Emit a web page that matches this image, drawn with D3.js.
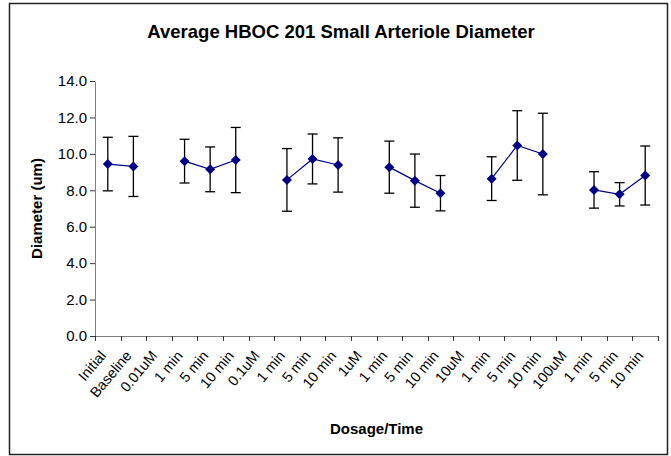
<!DOCTYPE html>
<html>
<head>
<meta charset="utf-8">
<script src="https://cdn.jsdelivr.net/npm/d3@7"></script>
<style>
  body { margin: 0; background: #fff; }
  text { font-family: "Liberation Sans", Arial, sans-serif; }
</style>
</head>
<body>
<svg width="671" height="456"></svg>
<script>
// categories along the x axis (dose headers have no value)
var categories = ["Initial", "Baseline", "0.01uM", "1 min", "5 min", "10 min", "0.1uM", "1 min", "5 min", "10 min",
    "1uM", "1 min", "5 min", "10 min", "10uM", "1 min", "5 min", "10 min", "100uM", "1 min", "5 min", "10 min"];
var means = [9.44, 9.31, null, 9.6, 9.15, 9.66, null, 8.57, 9.72, 9.39,
    null, 9.27, 8.53, 7.84, null, 8.64, 10.46, 9.99, null, 8.02, 7.78, 8.81];
var errors = [1.47, 1.65, null, 1.2, 1.23, 1.79, null, 1.72, 1.37, 1.49,
    null, 1.43, 1.46, 0.97, null, 1.2, 1.91, 2.24, null, 1.0, 0.64, 1.62];
var yTicks = [0, 2, 4, 6, 8, 10, 12, 14];

var svg = d3.select("svg"),
    width = +svg.attr("width"),
    height = +svg.attr("height");

var margin = { left: 95, right: 13, top: 81, bottom: 120 };

// outer frame
svg.append("rect")
    .attr("x", 9.5).attr("y", 3.5)
    .attr("width", 658).attr("height", 451)
    .attr("fill", "#fff")
    .attr("stroke", "#222")
    .attr("stroke-width", 1.5);

var x = d3.scaleBand()
    .domain(d3.range(categories.length))
    .range([margin.left, width - margin.right]);

var y = d3.scaleLinear()
    .domain([0, 14])
    .range([height - margin.bottom, margin.top]);

// title
svg.append("text")
    .attr("x", 341).attr("y", 38)
    .attr("text-anchor", "middle")
    .attr("font-size", "18.5px")
    .attr("font-weight", "bold")
    .text("Average HBOC 201 Small Arteriole Diameter");

// y axis
var yAxis = svg.append("g")
    .attr("transform", "translate(" + margin.left + ",0)")
    .call(d3.axisLeft(y).tickValues(yTicks).tickFormat(d3.format(".1f")).tickSize(5).tickSizeOuter(0));
yAxis.select(".domain").attr("stroke", "#808080");
yAxis.selectAll(".tick line").attr("stroke", "#333");
yAxis.selectAll(".tick text")
    .attr("font-size", "15px")
    .attr("fill", "#000")
    .attr("x", -8);

// x axis with ticks on band edges
var edges = d3.range(categories.length + 1).map(function (i) {
    return i < categories.length ? x(i) : x(i - 1) + x.bandwidth();
});
var xg = svg.append("g");
xg.append("line")
    .attr("x1", margin.left).attr("x2", width - margin.right)
    .attr("y1", y(0) + 0.5).attr("y2", y(0) + 0.5)
    .attr("stroke", "#808080");
xg.selectAll("line.tk")
    .data(edges)
    .enter()
    .append("line")
    .attr("class", "tk")
    .attr("x1", function (d) { return Math.round(d) + 0.5; })
    .attr("x2", function (d) { return Math.round(d) + 0.5; })
    .attr("y1", y(0))
    .attr("y2", y(0) + 5)
    .attr("stroke", "#333");

xg.selectAll("text")
    .data(categories)
    .enter()
    .append("text")
    .attr("transform", function (d, i) {
        return "translate(" + (x(i) + x.bandwidth() / 2 - 1) + "," + (y(0) + 20) + ") rotate(-50)";
    })
    .attr("text-anchor", "end")
    .attr("font-size", "14.5px")
    .text(function (d) { return d; });

// axis titles
svg.append("text")
    .attr("transform", "translate(42," + ((y(0) + y(14)) / 2) + ") rotate(-90)")
    .attr("text-anchor", "middle")
    .attr("font-size", "15px")
    .attr("font-weight", "bold")
    .text("Diameter (um)");

svg.append("text")
    .attr("x", (margin.left + width - margin.right) / 2)
    .attr("y", 434)
    .attr("text-anchor", "middle")
    .attr("font-size", "15px")
    .attr("font-weight", "bold")
    .text("Dosage/Time");

var pts = means.map(function (m, i) { return { i: i, m: m, e: errors[i] }; });
var cx = function (d) { return x(d.i) + x.bandwidth() / 2; };

// error bars
var eb = svg.append("g").selectAll("g")
    .data(pts.filter(function (d) { return d.m !== null; }))
    .enter()
    .append("g")
    .attr("stroke", "#000")
    .attr("stroke-width", 1.3);
eb.append("line")
    .attr("x1", cx).attr("x2", cx)
    .attr("y1", function (d) { return y(d.m + d.e); })
    .attr("y2", function (d) { return y(d.m - d.e); });
eb.append("line")
    .attr("x1", function (d) { return cx(d) - 5; }).attr("x2", function (d) { return cx(d) + 5; })
    .attr("y1", function (d) { return y(d.m + d.e); })
    .attr("y2", function (d) { return y(d.m + d.e); });
eb.append("line")
    .attr("x1", function (d) { return cx(d) - 5; }).attr("x2", function (d) { return cx(d) + 5; })
    .attr("y1", function (d) { return y(d.m - d.e); })
    .attr("y2", function (d) { return y(d.m - d.e); });

// line (gaps at dose headers)
var line = d3.line()
    .defined(function (d) { return d.m !== null; })
    .x(cx)
    .y(function (d) { return y(d.m); });
svg.append("path")
    .datum(pts)
    .attr("d", line)
    .attr("fill", "none")
    .attr("stroke", "#000080")
    .attr("stroke-width", 1.2);

// diamond markers
svg.append("g").selectAll("path")
    .data(pts.filter(function (d) { return d.m !== null; }))
    .enter()
    .append("path")
    .attr("d", "M0,-5 L5,0 L0,5 L-5,0 Z")
    .attr("transform", function (d) { return "translate(" + cx(d) + "," + y(d.m) + ")"; })
    .attr("fill", "#000080");
</script>
</body>
</html>
